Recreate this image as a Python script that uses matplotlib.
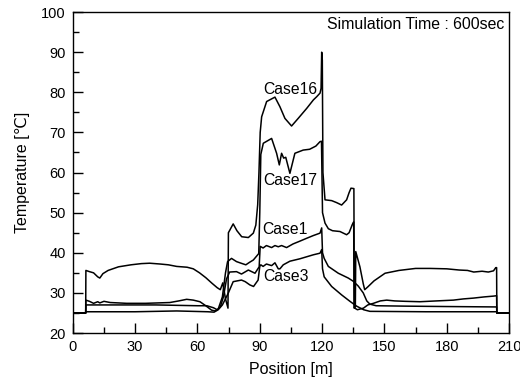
import matplotlib
matplotlib.use("Agg")
import matplotlib.pyplot as plt
from matplotlib.ticker import MultipleLocator

plt.rcParams['font.family'] = ['Liberation Sans', 'DejaVu Sans']

# ----------- Data -----------

case16_x = [0, 6.2, 6.3, 8, 10, 12, 13, 14.5, 17, 22, 28, 33, 37, 42, 46, 50, 55, 58,
            61, 64, 67, 69.5, 71, 72.2, 73.5, 74.7, 74.9, 77.2, 79, 81.3, 84.5, 86.9,
            88.1, 89, 89.6, 90.2, 90.9, 93.3, 97.3, 99.7, 102.1, 105.3, 108.5, 112.6,
            115.8, 117.4, 119.0, 119.5, 119.8, 120.1, 120.4, 121.4, 124.6, 127, 129.4,
            131.8, 133, 133.9, 135.3, 135.5, 136.0, 136.2, 138.2, 139.8, 140.5, 142,
            145, 150.3, 157, 165, 172, 180, 186, 190, 193, 197, 200, 202.5, 203.6, 204,
            204.1, 210]
case16_t = [25, 25, 35.6, 35.3, 35.0, 34.0, 33.7, 34.8, 35.6, 36.5, 37.0, 37.3, 37.4,
            37.2, 37.0, 36.6, 36.4, 36.0, 35.0, 33.8, 32.4, 31.3, 30.8, 32.5, 28.5,
            26.2, 45.0, 47.2, 45.5, 44.0, 43.8, 44.9, 46.9, 52.0, 60.0, 70.0, 73.9,
            77.7, 78.8, 76.4, 73.5, 71.6, 73.5, 76.0, 78.1, 78.9, 79.8, 81.0, 90.0,
            88.0, 60.0, 53.2, 53.0, 52.5, 51.9, 53.2, 55.0, 56.1, 56.0, 26.2, 26.5,
            40.3, 36.5, 32.3, 30.8, 31.5, 33.0, 34.9, 35.6, 36.1, 36.1, 36.0, 35.7,
            35.6, 35.2, 35.4, 35.2, 35.5, 36.3, 36.3, 25, 25]

case17_x = [0, 6.2, 6.3, 8, 10, 12, 13, 15, 18, 25.9, 35, 46.7, 51, 54.8, 58, 61.2, 64,
            66.8, 68.5, 70, 72, 73.5, 74.5, 76.4, 78.8, 81, 83.3, 85, 86.9, 89.5, 90.0,
            90.5, 91.7, 95.7, 98.1, 99.4, 100.5, 101.5, 102.5, 104.5, 106.9, 110.9,
            114, 117, 119.0, 119.7, 120.2, 121.4, 123, 125, 128.6, 131.8, 133, 134.5,
            135.2, 135.4, 137, 139.9, 142, 144.7, 148, 151.1, 155, 160, 167.1, 175,
            183.2, 188, 192.8, 198, 202.5, 204, 204.1, 210]
case17_t = [25, 25, 28.2, 27.9, 27.4, 27.8, 27.5, 27.9, 27.6, 27.4, 27.4, 27.6, 28.0,
            28.4, 28.2, 27.8, 26.8, 25.7, 25.5, 26.0, 29.0, 35.0, 37.8, 38.6, 37.8,
            37.4, 37.0, 37.6, 38.2, 39.8, 50.0, 64.5, 67.3, 68.5, 64.8, 61.9, 64.8,
            63.6, 63.8, 59.8, 64.8, 65.6, 65.8, 66.6, 67.7, 67.8, 50.0, 47.4, 46.0,
            45.5, 45.3, 44.5, 45.0, 47.0, 47.7, 26.3, 25.8, 26.2, 27.0, 27.4, 28.0,
            28.2, 28.0, 27.9, 27.8, 28.0, 28.2, 28.5, 28.7, 29.0, 29.2, 29.3, 25, 25]

case1_x = [0, 6.2, 6.3, 20, 40, 60, 64.5, 67.7, 69.5, 71, 72.5, 74, 75.5, 78.8, 81.2,
           84.5, 87.7, 89.7, 90.2, 91.6, 93.2, 95.7, 97.3, 98.9, 100.5, 102.9, 106,
           109.3, 112.5, 115.8, 119.0, 119.8, 120.2, 121, 123, 127.8, 132.6, 135,
           137.4, 139.8, 141.5, 143, 146, 160, 180, 204, 204.1, 210]
case1_t = [25, 25, 27.0, 27.0, 27.0, 26.8, 26.8, 26.3, 25.8, 26.5, 29.0, 33.5, 35.2,
           35.3, 34.7, 35.7, 34.9, 36.5, 41.6, 41.2, 41.8, 41.3, 41.8, 41.5, 41.8, 41.3,
           42.2, 42.9, 43.6, 44.3, 44.9, 46.2, 40.0, 38.6, 36.6, 34.9, 33.7, 32.9, 31.7,
           30.0, 28.0, 27.2, 26.8, 26.7, 26.6, 26.5, 25, 25]

case3_x = [0, 6.2, 6.3, 30, 50, 65, 68, 70, 72, 74.8, 77.2, 81.2, 83, 85.2, 87, 89.2,
           90.0, 90.5, 91.6, 93.2, 95.7, 97.3, 98.9, 99.7, 101.3, 104.5, 109.3, 115.8,
           119.0, 119.8, 120.2, 121, 124.6, 129.4, 133.4, 136.6, 140, 143, 170, 204,
           204.1, 210]
case3_t = [25, 25, 25.3, 25.3, 25.5, 25.3, 25.2, 25.8, 27.0, 29.9, 32.8, 33.2, 32.8,
           32.0, 31.6, 33.2, 36.6, 37.0, 36.6, 37.2, 36.8, 37.5, 36.0, 36.0, 37.0, 37.9,
           38.5, 39.5, 39.9, 40.8, 36.0, 34.0, 31.6, 29.5, 27.9, 26.7, 25.8, 25.4, 25.3,
           25.3, 25, 25]

# ----------- Plot -----------

fig = plt.figure(figsize=(5.2, 3.83), dpi=100)
ax = fig.add_axes([0.140, 0.1305, 0.839, 0.838])

for xs, ts in [(case16_x, case16_t), (case17_x, case17_t),
               (case1_x, case1_t), (case3_x, case3_t)]:
    ax.plot(xs, ts, color="black", lw=1.1)

ax.text(104.5, 80.8, "Case16", ha="center", va="center", fontsize=11.3)
ax.text(104.5, 57.9, "Case17", ha="center", va="center", fontsize=11.3)
ax.text(102.1, 45.7, "Case1", ha="center", va="center", fontsize=11.3)
ax.text(102.6, 34.0, "Case3", ha="center", va="center", fontsize=11.3)
ax.text(207.5, 96.8, "Simulation Time : 600sec", ha="right", va="center", fontsize=11.4)

ax.set_xlim(0, 210)
ax.set_ylim(20, 100)
ax.xaxis.set_major_locator(MultipleLocator(30))
ax.xaxis.set_minor_locator(MultipleLocator(15))
ax.yaxis.set_major_locator(MultipleLocator(10))
ax.yaxis.set_minor_locator(MultipleLocator(5))
ax.tick_params(which="both", direction="in", top=False, right=False, labelsize=10.5, pad=5)
ax.tick_params(which="major", length=7, width=1)
ax.tick_params(which="minor", length=4, width=1)
for s in ax.spines.values():
    s.set_linewidth(1.0)

ax.set_xlabel("Position [m]", fontsize=11.5, labelpad=6)
ax.set_ylabel("Temperature [\u2103]", fontsize=11.5, labelpad=8)

fig.savefig("out.png", dpi=100)
